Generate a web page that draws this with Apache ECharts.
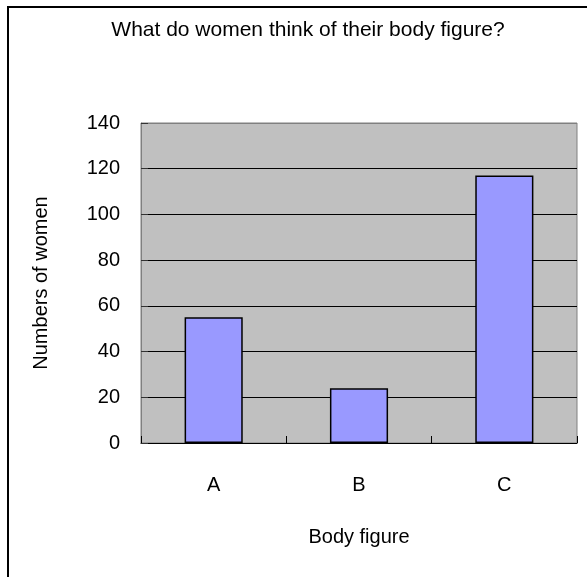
<!DOCTYPE html>
<html lang="en">
<head>
  <meta charset="UTF-8">
  <title>Body figure</title>
  <script src="https://cdn.jsdelivr.net/npm/echarts@6/dist/echarts.min.js"></script>
  <style>
    html, body { margin: 0; padding: 0; background: #fff; }
  </style>
</head>
<body>
<div id="chart" style="width: 587px; height: 577px;"></div>
<script>
// data
var categories = ['A', 'B', 'C'];
var women = [55, 24, 117];
var yTicks = { min: 0, max: 140, step: 20 };

var chart = echarts.init(document.getElementById('chart'));
var font = 'Liberation Sans, Arial, sans-serif';

var option = {
  backgroundColor: '#fff',
  animation: false,
  title: {
    text: 'What do women think of their body figure?',
    left: 303,
    top: 15,
    textAlign: 'center',
    textStyle: { fontFamily: font, fontSize: 21, fontWeight: 'normal', color: '#000' }
  },
  graphic: [{
    type: 'rect',
    shape: { x: 8, y: 7, width: 700, height: 700 },
    style: { fill: null, stroke: '#000', lineWidth: 2 },
    silent: true
  }],
  grid: {
    left: 141, right: 10, top: 123, bottom: 134,
    show: true,
    backgroundColor: '#c0c0c0',
    borderColor: '#808080',
    borderWidth: 1
  },
  xAxis: {
    type: 'category',
    data: categories,
    name: 'Body figure',
    nameLocation: 'middle',
    nameGap: 84,
    nameTextStyle: { fontFamily: font, fontSize: 20, color: '#000' },
    axisLine: { lineStyle: { color: '#000', width: 1 } },
    axisTick: { show: true, inside: true, length: 7, lineStyle: { color: '#000' } },
    axisLabel: { fontFamily: font, fontSize: 20, color: '#000', margin: 32 },
    splitLine: { show: false }
  },
  yAxis: {
    type: 'value',
    min: yTicks.min,
    max: yTicks.max,
    interval: yTicks.step,
    name: 'Numbers of women',
    nameLocation: 'middle',
    nameGap: 90,
    nameRotate: 90,
    nameTextStyle: { fontFamily: font, fontSize: 20, color: '#000' },
    axisLine: { show: true, lineStyle: { color: '#808080', width: 1 } },
    axisTick: { show: true, inside: true, length: 7, lineStyle: { color: '#333' } },
    axisLabel: { fontFamily: font, fontSize: 20, color: '#000', margin: 21, padding: [8, 0, 0, 0] },
    splitLine: {
      show: true,
      lineStyle: {
        color: ['#808080', '#000', '#000', '#000', '#000', '#000', '#000', '#808080'],
        width: 1
      }
    }
  },
  series: [{
    type: 'bar',
    data: women,
    barWidth: '40%',
    itemStyle: { color: '#9999ff', borderColor: '#000', borderWidth: 1.5 }
  }]
};

chart.setOption(option);
</script>
</body>
</html>
